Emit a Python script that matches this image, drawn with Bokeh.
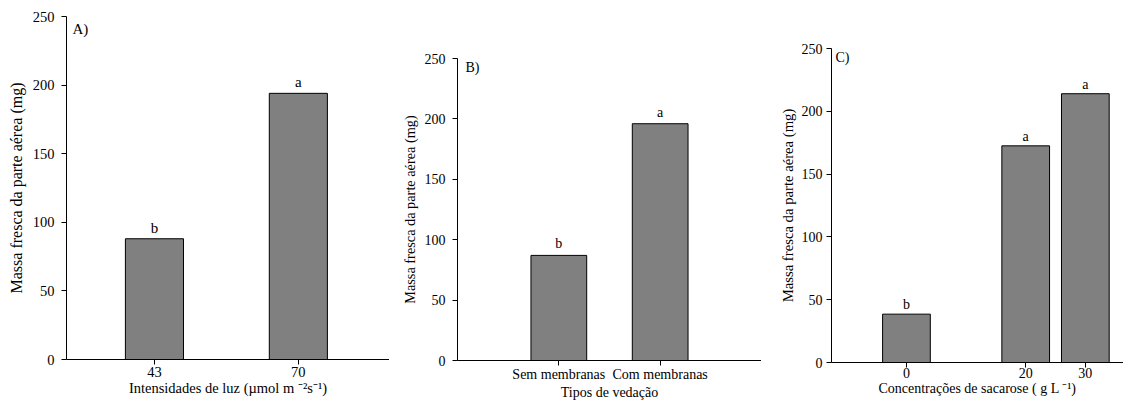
from bokeh.plotting import figure
from bokeh.layouts import row, column
from bokeh.models import Range1d, FactorRange, FixedTicker, Label, ColumnDataSource
from bokeh.core.properties import value
from bokeh.embed import file_html
from bokeh.resources import INLINE

# ---- data ----
a_x = [43, 70]
a_vals = [88, 194]
a_letters = ["b", "a"]

b_cats = ["Sem membranas", "Com membranas"]
b_vals = [87, 196]
b_letters = ["b", "a"]

c_x = [0, 20, 30]
c_vals = [38.5, 172.5, 214]
c_letters = ["b", "a", "a"]

y_ticks = [0, 50, 100, 150, 200, 250]

YLAB = "Massa fresca da parte aérea (mg)"
A_XLAB = "Intensidades de luz (µmol m ⁻²s⁻¹)"
B_XLAB = "Tipos de vedação"
C_XLAB = "Concentrações de sacarose ( g L ⁻¹)"

FONT = "Liberation Serif"
BAR = "#808080"


def style(p, tick_size, label_size, ylabel, xlabel):
    p.outline_line_color = None
    p.background_fill_color = "white"
    p.border_fill_color = "white"
    p.xgrid.visible = False
    p.ygrid.visible = False
    for ax in (p.xaxis[0], p.yaxis[0]):
        ax.axis_line_color = "black"
        ax.axis_line_width = 1
        ax.major_tick_line_color = "black"
        ax.major_tick_in = 0
        ax.major_tick_out = 5
        ax.minor_tick_line_color = None
        ax.major_label_text_font = FONT
        ax.major_label_text_font_size = tick_size
        ax.major_label_text_color = "black"
        ax.axis_label_text_font = FONT
        ax.axis_label_text_font_style = "normal"
        ax.axis_label_text_color = "black"
    p.yaxis[0].axis_label_text_font_size = label_size
    p.xaxis[0].axis_label_text_font_size = tick_size
    p.yaxis[0].ticker = FixedTicker(ticks=y_ticks)
    p.yaxis[0].axis_label = ylabel
    p.xaxis[0].axis_label = xlabel


def panel_label(p, text, x, size, xoff, yoff):
    p.add_layout(Label(x=x, y=250, text=text, x_offset=xoff, y_offset=yoff,
                       text_baseline="top", text_align="left",
                       text_font=FONT, text_font_size=size,
                       text_color="black"))


# ---- Panel A ----
ax0, ax1 = 26.5, 87.1
pA = figure(width=389, height=402, output_backend="svg", toolbar_location=None,
            x_range=Range1d(ax0, ax1), y_range=Range1d(0, 250),
            min_border_left=66, min_border_right=0, min_border_top=16, min_border_bottom=43)
srcA = ColumnDataSource(dict(x=a_x, top=a_vals, t=a_letters))
pA.vbar(x="x", top="top", bottom=0, width=10.9, source=srcA,
        fill_color=BAR, line_color="black", line_width=1)
pA.text(x="x", y="top", text="t", source=srcA, text_align="center",
        text_baseline="bottom", y_offset=-3, text_font=value(FONT),
        text_font_size="15px", text_color="black")
style(pA, "14.5px", "16px", YLAB, A_XLAB)
pA.xaxis[0].ticker = FixedTicker(ticks=a_x)
pA.yaxis[0].major_label_standoff = 7
pA.yaxis[0].axis_label_standoff = 5
pA.xaxis[0].major_label_standoff = 2
pA.xaxis[0].axis_label_standoff = 0
panel_label(pA, "A)", ax0, "15px", 6, -4)

# ---- Panel B ----
pB = figure(width=372, height=402, output_backend="svg", toolbar_location=None,
            x_range=FactorRange(factors=b_cats, range_padding=0.5,
                                range_padding_units="absolute"),
            y_range=Range1d(0, 250),
            min_border_left=68, min_border_right=0, min_border_top=58, min_border_bottom=41)
srcB = ColumnDataSource(dict(x=b_cats, top=b_vals, t=b_letters))
pB.vbar(x="x", top="top", bottom=0, width=0.55, source=srcB,
        fill_color=BAR, line_color="black", line_width=1)
pB.text(x="x", y="top", text="t", source=srcB, text_align="center",
        text_baseline="bottom", y_offset=-4, text_font=value(FONT),
        text_font_size="14px", text_color="black")
style(pB, "14px", "14.3px", YLAB, B_XLAB)
pB.yaxis[0].major_label_standoff = 7
pB.yaxis[0].axis_label_standoff = 4
pB.xaxis[0].major_label_standoff = 1
pB.xaxis[0].axis_label_standoff = 0
panel_label(pB, "B)", -0.5, "14px", 8, -1)

# ---- Panel C ----
cx0, cx1 = -12.57, 36.4
pC = figure(width=362, height=402, output_backend="svg", toolbar_location=None,
            x_range=Range1d(cx0, cx1), y_range=Range1d(0, 250),
            min_border_left=70, min_border_right=0, min_border_top=48, min_border_bottom=40)
srcC = ColumnDataSource(dict(x=c_x, top=c_vals, t=c_letters))
pC.vbar(x="x", top="top", bottom=0, width=8, source=srcC,
        fill_color=BAR, line_color="black", line_width=1)
pC.text(x="x", y="top", text="t", source=srcC, text_align="center",
        text_baseline="bottom", y_offset=-2, text_font=value(FONT),
        text_font_size="14px", text_color="black")
style(pC, "14px", "14.7px", YLAB, C_XLAB)
pC.xaxis[0].ticker = FixedTicker(ticks=c_x)
pC.yaxis[0].major_label_standoff = 4
pC.yaxis[0].axis_label_standoff = 3
pC.xaxis[0].major_label_standoff = 0
pC.xaxis[0].axis_label_standoff = 0
panel_label(pC, "C)", cx0, "14px", 4, -1)

layout = row(column(pA), column(pB), column(pC))
open("out.html", "w").write(file_html(layout, INLINE))
